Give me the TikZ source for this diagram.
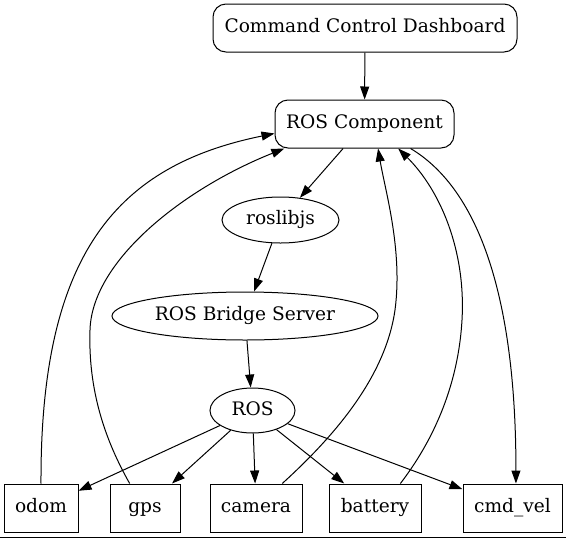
\documentclass[tikz,border=0pt]{standalone}
\usepackage{fontspec}
\setmainfont{DejaVu Serif}
\usetikzlibrary{arrows.meta,shapes.geometric}
\begin{document}
\begin{tikzpicture}[x=1pt,y=-1pt,
  every node/.style={font=\fontsize{18.6}{22}\selectfont, inner sep=0pt, line width=1pt, draw, text height=13.5pt, text depth=4pt},
  rbox/.style={rectangle, rounded corners=13pt, minimum height=48pt},
  sbox/.style={rectangle, minimum height=48pt},
  ell/.style={ellipse},
  edge/.style={line width=1pt, -{Triangle[length=13pt,width=9pt]}}
]
\useasboundingbox (0,0) rectangle (566,539);
\node[rbox, minimum width=304pt] (dash) at (365,28) {Command Control Dashboard};
\node[rbox, minimum width=179pt] (comp) at (364.5,124) {ROS Component};
\node[ell, minimum width=117pt, minimum height=46pt] (roslib) at (280.5,220) {roslibjs};
\node[ell, minimum width=266pt, minimum height=48pt] (bridge) at (245,316) {ROS Bridge Server};
\node[ell, minimum width=85pt, minimum height=45pt] (ros) at (252.5,410.5) {ROS};
\node[sbox, minimum width=74pt] (odom) at (41,508) {odom};
\node[sbox, minimum width=70pt] (gps) at (145,508) {gps};
\node[sbox, minimum width=92pt] (camera) at (256,508) {camera};
\node[sbox, minimum width=92pt] (battery) at (375,508) {battery};
\node[sbox, minimum width=99pt] (cmd) at (512.5,508) {cmd\_vel};

\draw[edge] (dash) -- (comp);
\draw[edge] (comp) -- (roslib);
\draw[edge] (roslib) -- (bridge);
\draw[edge] (bridge) -- (ros);
\draw[edge] (ros) -- (odom);
\draw[edge] (ros) -- (gps);
\draw[edge] (ros) -- (camera);
\draw[edge] (ros) -- (battery);
\draw[edge] (ros) -- (cmd);

\draw[edge] (odom.north) .. controls (40,250) and (120,165) .. (comp.186);
\draw[edge] (gps.122) .. controls (105,440) and (88,390) .. (90,330)
   .. controls (92,260) and (185,188) .. (comp.197);
\draw[edge] (camera.43) .. controls (330,440) and (385,380) .. (395,310)
   .. controls (403,250) and (385,190) .. (comp.299);
\draw[edge] (battery.44) .. controls (430,445) and (458,390) .. (462,320)
   .. controls (466,250) and (440,190) .. (comp.324);
\draw[edge] (comp.332) .. controls (480,190) and (516,300) .. (cmd.82);

\draw[line width=1pt] (0,537.5) -- (566,537.5);
\end{tikzpicture}
\end{document}
